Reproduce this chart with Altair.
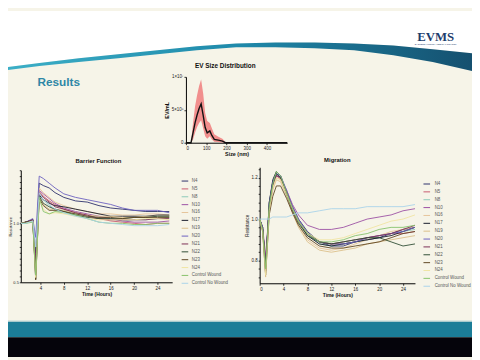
import altair as alt
import pandas as pd

W, H = 472, 352  # visible chart area (page has 8px margin)

# ---------------- data ----------------
series_names = ["N4", "N5", "N8", "N10", "N16", "N17", "N19", "N20", "N21",
                "N22", "N23", "N24", "Control Wound", "Control No Wound"]
series_colors = ["#2b2f6b", "#c85a6e", "#8cc9b8", "#9b4fa3", "#e6c49a", "#15192a",
                 "#dcc08a", "#6a5fc0", "#7b2d55", "#2e4d34", "#5f4522", "#f0e4a2",
                 "#86c26a", "#a9d3ea"]

# EV size distribution
ev_size = [0, 25, 35, 45, 55, 65, 75, 85, 95, 105, 118, 128, 140, 160, 180, 195, 250, 300, 400, 500]
ev_mean = [0, 0, 1.5e6, 3.0e6, 4.2e6, 5.2e6, 5.9e6, 4.2e6, 2.3e6, 1.5e6, 1.8e6, 1.1e6, 0.5e6,
           0.4e6, 0.25e6, 0, 0, 0, 0, 0]
ev_upper = [0, 0, 3.0e6, 5.5e6, 7.2e6, 8.6e6, 9.6e6, 7.5e6, 4.5e6, 3.3e6, 3.0e6, 2.2e6, 1.3e6,
            0.9e6, 0.6e6, 0.1e6, 0, 0, 0, 0]
ev_lower = [0, 0, 0.5e6, 1.5e6, 2.4e6, 3.0e6, 3.4e6, 2.2e6, 1.0e6, 0.6e6, 1.0e6, 0.5e6, 0.15e6,
            0.1e6, 0.05e6, 0, 0, 0, 0, 0]

# Barrier function
barrier_time = [0.7, 1.5, 2.7, 3.2, 3.8, 4.5, 5.5, 6.5, 8, 10, 12, 14, 16, 18, 20, 22, 24, 26]
b_N4 = [1.00, 1.01, 1.03, 0.75, 1.34, 1.32, 1.30, 1.26, 1.22, 1.19, 1.18, 1.15, 1.13, 1.12, 1.11, 1.10, 1.10, 1.10]
b_N5 = [1.00, 1.01, 1.02, 0.60, 1.27, 1.23, 1.19, 1.16, 1.12, 1.09, 1.06, 1.04, 1.02, 1.01, 1.00, 0.99, 1.00, 1.00]
b_N8 = [1.00, 1.00, 1.02, 0.58, 1.25, 1.20, 1.15, 1.12, 1.10, 1.08, 1.06, 1.05, 1.04, 1.02, 1.03, 1.03, 1.04, 1.05]
b_N10 = [1.00, 1.01, 1.03, 0.65, 1.28, 1.25, 1.21, 1.17, 1.13, 1.10, 1.08, 1.06, 1.04, 1.02, 1.01, 1.01, 1.01, 1.02]
b_N16 = [1.00, 1.01, 1.03, 0.57, 1.30, 1.26, 1.22, 1.18, 1.15, 1.12, 1.10, 1.08, 1.08, 1.07, 1.07, 1.08, 1.08, 1.07]
b_N17 = [1.00, 1.01, 1.03, 0.62, 1.24, 1.20, 1.17, 1.15, 1.14, 1.12, 1.10, 1.08, 1.06, 1.06, 1.06, 1.06, 1.07, 1.07]
b_N19 = [1.00, 1.01, 1.02, 0.55, 1.22, 1.16, 1.12, 1.12, 1.11, 1.09, 1.07, 1.06, 1.06, 1.05, 1.05, 1.06, 1.06, 1.06]
b_N20 = [1.00, 1.01, 1.04, 0.88, 1.40, 1.38, 1.34, 1.30, 1.25, 1.22, 1.20, 1.18, 1.16, 1.13, 1.11, 1.11, 1.11, 1.09]
b_N21 = [1.00, 1.01, 1.03, 0.66, 1.26, 1.22, 1.18, 1.14, 1.12, 1.09, 1.07, 1.04, 1.03, 1.03, 1.03, 1.03, 1.04, 1.04]
b_N22 = [1.00, 1.01, 1.02, 0.53, 1.23, 1.17, 1.14, 1.12, 1.10, 1.07, 1.05, 1.04, 1.04, 1.04, 1.05, 1.05, 1.06, 1.06]
b_N23 = [1.00, 1.01, 1.02, 0.52, 1.21, 1.15, 1.11, 1.11, 1.10, 1.08, 1.06, 1.05, 1.05, 1.04, 1.05, 1.05, 1.05, 1.05]
b_N24 = [1.00, 1.00, 1.02, 0.54, 1.20, 1.12, 1.08, 1.09, 1.08, 1.06, 1.04, 1.03, 1.03, 1.03, 1.03, 1.04, 1.04, 1.03]
b_CW = [1.00, 1.00, 1.01, 0.56, 1.22, 1.10, 1.08, 1.10, 1.09, 1.07, 1.04, 1.01, 1.00, 1.00, 0.99, 0.99, 1.00, 1.00]
b_CNW = [1.00, 1.00, 1.02, 0.80, 1.26, 1.20, 1.16, 1.12, 1.09, 1.06, 1.04, 1.01, 1.00, 0.99, 0.98, 0.98, 0.98, 0.99]
barrier_table = [b_N4, b_N5, b_N8, b_N10, b_N16, b_N17, b_N19, b_N20, b_N21, b_N22, b_N23, b_N24, b_CW, b_CNW]

# Migration
migration_time = [0, 0.5, 1, 1.6, 2.2, 2.8, 3.5, 4.5, 5.5, 6.5, 8, 10, 12, 14, 16, 18, 20, 22, 24, 26]
m_N4 = [1.00, 0.96, 0.76, 1.08, 1.18, 1.22, 1.20, 1.13, 1.06, 1.00, 0.94, 0.89, 0.87, 0.87, 0.89, 0.90, 0.91, 0.93, 0.95, 0.96]
m_N5 = [1.00, 0.95, 0.80, 1.06, 1.17, 1.21, 1.19, 1.13, 1.05, 0.99, 0.93, 0.89, 0.88, 0.88, 0.89, 0.91, 0.92, 0.93, 0.93, 0.94]
m_N8 = [1.00, 0.95, 0.78, 1.07, 1.18, 1.22, 1.20, 1.12, 1.05, 0.99, 0.93, 0.88, 0.87, 0.88, 0.89, 0.90, 0.92, 0.93, 0.94, 0.95]
m_N10 = [1.00, 0.96, 0.82, 1.05, 1.16, 1.21, 1.20, 1.14, 1.07, 1.02, 0.97, 0.95, 0.95, 0.96, 0.98, 1.00, 1.01, 1.02, 1.04, 1.05]
m_N16 = [1.00, 0.95, 0.74, 1.04, 1.15, 1.20, 1.19, 1.12, 1.04, 0.97, 0.90, 0.86, 0.85, 0.86, 0.88, 0.90, 0.92, 0.94, 0.95, 0.96]
m_N17 = [1.00, 0.96, 0.75, 1.08, 1.19, 1.23, 1.21, 1.13, 1.05, 0.99, 0.92, 0.88, 0.87, 0.88, 0.89, 0.90, 0.91, 0.92, 0.94, 0.96]
m_N19 = [1.00, 0.94, 0.72, 1.03, 1.14, 1.19, 1.18, 1.11, 1.03, 0.96, 0.89, 0.85, 0.84, 0.85, 0.86, 0.88, 0.89, 0.90, 0.91, 0.92]
m_N20 = [1.00, 0.96, 0.77, 1.07, 1.18, 1.22, 1.21, 1.14, 1.06, 1.00, 0.93, 0.89, 0.88, 0.88, 0.89, 0.91, 0.92, 0.93, 0.94, 0.96]
m_N21 = [1.00, 0.95, 0.79, 1.05, 1.16, 1.21, 1.20, 1.13, 1.05, 0.99, 0.93, 0.89, 0.88, 0.89, 0.90, 0.91, 0.92, 0.93, 0.95, 0.97]
m_N22 = [1.00, 0.95, 0.77, 1.06, 1.17, 1.22, 1.20, 1.12, 1.04, 0.98, 0.92, 0.89, 0.88, 0.89, 0.90, 0.91, 0.91, 0.89, 0.87, 0.88]
m_N23 = [1.00, 0.94, 0.73, 1.02, 1.11, 1.16, 1.16, 1.10, 1.03, 0.97, 0.91, 0.87, 0.86, 0.86, 0.87, 0.88, 0.89, 0.91, 0.93, 0.94]
m_N24 = [1.00, 0.94, 0.73, 1.04, 1.15, 1.20, 1.19, 1.12, 1.05, 0.99, 0.93, 0.90, 0.90, 0.91, 0.93, 0.95, 0.97, 0.99, 1.00, 1.02]
m_CW = [1.00, 0.95, 0.76, 1.06, 1.17, 1.23, 1.21, 1.13, 1.05, 0.99, 0.93, 0.89, 0.89, 0.90, 0.92, 0.93, 0.95, 0.96, 0.96, 0.97]
m_CNW = [1.00, 1.00, 1.00, 1.00, 1.01, 1.01, 1.01, 1.01, 1.02, 1.03, 1.03, 1.04, 1.05, 1.05, 1.05, 1.06, 1.06, 1.06, 1.06, 1.07]
migration_table = [m_N4, m_N5, m_N8, m_N10, m_N16, m_N17, m_N19, m_N20, m_N21, m_N22, m_N23, m_N24, m_CW, m_CNW]

# decorative swoosh (page pixel coordinates)
swoosh_x = [0, 40, 80, 120, 160, 200, 240, 280, 320, 360, 400, 440, 480]
swoosh_top = [66, 61, 56, 52, 48, 44, 41, 40, 40, 41, 43, 47, 51]
swoosh_bottom = [69, 64, 60, 56, 52, 48, 45, 45, 46, 48, 53, 60, 69]


def long_df(times, table):
    rows = []
    for name, vals in zip(series_names, table):
        for t, v in zip(times, vals):
            rows.append({"time": t, "value": v, "series": name})
    return pd.DataFrame(rows)


barrier_df = long_df(barrier_time, barrier_table)
migration_df = long_df(migration_time, migration_table)
ev_df = pd.DataFrame({"size": ev_size, "mean": ev_mean, "upper": ev_upper, "lower": ev_lower})
sw_df = pd.DataFrame({"x": [v - 8 for v in swoosh_x],
                      "top": [v - 8 for v in swoosh_top],
                      "bottom": [v - 8 for v in swoosh_bottom]})
one = pd.DataFrame({"a": [0]})

FONT = "Liberation Sans"

# ---------------- decorations ----------------
top_black = alt.Chart(one).mark_rect(color="#050508").encode(
    x=alt.value(0), x2=alt.value(W), y=alt.value(0), y2=alt.value(12))
white_area = alt.Chart(sw_df).mark_area(color="white").encode(
    x=alt.X("x:Q", scale=None), y=alt.Y("top:Q", scale=None), y2=alt.value(12))
swoosh = alt.Chart(sw_df).mark_area(
    color=alt.Gradient(gradient="linear", x1=0, x2=1, y1=0, y2=0,
                       stops=[alt.GradientStop(color="#3db0c8", offset=0),
                              alt.GradientStop(color="#1f8aab", offset=0.5),
                              alt.GradientStop(color="#15506f", offset=1)])
).encode(x=alt.X("x:Q", scale=None), y=alt.Y("top:Q", scale=None), y2=alt.Y2("bottom:Q"))
bottom_line = alt.Chart(one).mark_rect(color="#cfe0dc").encode(
    x=alt.value(0), x2=alt.value(W), y=alt.value(314.5), y2=alt.value(316))
bottom_teal = alt.Chart(one).mark_rect(color="#1b7d98").encode(
    x=alt.value(0), x2=alt.value(W), y=alt.value(316), y2=alt.value(332))
bottom_black = alt.Chart(one).mark_rect(color="#05040b").encode(
    x=alt.value(0), x2=alt.value(W), y=alt.value(332), y2=alt.value(H))


def label(text, x, y, size, color="#111", weight="bold", align="center", font=FONT):
    return alt.Chart(one).mark_text(
        text=text, fontSize=size, fontWeight=weight, color=color, align=align,
        baseline="middle", font=font
    ).encode(x=alt.value(x), y=alt.value(y))


results_txt = label("Results", 30, 72, 12, color="#2e87a6", align="left")
evms_txt = label("EVMS", 435, 27, 13, color="#1d3d6c", font="Liberation Serif")
evms_sub = label("EASTERN VIRGINIA MEDICAL SCHOOL", 435, 34, 2.3, color="#1d3d6c", weight="normal")
ev_title = label("EV Size Distribution", 221, 56, 6.5)
bar_title = label("Barrier Function", 92, 153, 6)
mig_title = label("Migration", 335, 152, 6)

# ---------------- axis helpers ----------------
ax_common = dict(grid=False, domainColor="black", tickColor="black", labelColor="#222",
                 labelFont=FONT, titleFont=FONT, titleColor="#111",
                 domainWidth=1, tickWidth=0.8, labelPadding=1)

# ---------------- EV chart ----------------
ev_x = alt.Scale(domain=[0, 500], range=[181, 284], nice=False, zero=False)
ev_y = alt.Scale(domain=[0, 1e7], range=[134, 67], nice=False)
ev_band = alt.Chart(ev_df).mark_area(color="#f07c7c", opacity=0.85).encode(
    x=alt.X("size:Q", scale=ev_x, axis=None),
    y=alt.Y("upper:Q", scale=ev_y, axis=None),
    y2="lower:Q")
ev_line = alt.Chart(ev_df).mark_line(color="#111", strokeWidth=1.4).encode(
    x=alt.X("size:Q", scale=ev_x,
            axis=alt.Axis(orient="bottom", offset=-218, values=[0, 100, 200, 300, 400],
                          title="Size (nm)", titleFontSize=5.5, titleFontWeight="bold",
                          titlePadding=2, tickSize=2, labelFontSize=4.5, **ax_common)),
    y=alt.Y("mean:Q", scale=ev_y,
            axis=alt.Axis(orient="left", offset=-181, values=[0, 5e6, 1e7],
                          labelExpr="datum.value == 0 ? '0' : datum.value < 6000000 ? '5×10⁶' : '1×10⁷'",
                          title="EV/mL", titleFontSize=5.5, titleFontWeight="bold",
                          titlePadding=2, tickSize=2, labelFontSize=4.5, **ax_common)))

# ---------------- Barrier chart ----------------
bar_y_vals = [0.5, 0.55, 0.6, 0.65, 0.7, 0.75, 0.8, 0.85, 0.9, 0.95, 1.0,
              1.05, 1.1, 1.15, 1.2, 1.25, 1.3, 1.35, 1.4, 1.45]
barrier = alt.Chart(barrier_df).mark_line(strokeWidth=0.9).encode(
    x=alt.X("time:Q", scale=alt.Scale(domain=[0.65, 26.5], range=[13, 167], nice=False, zero=False),
            axis=alt.Axis(orient="bottom", offset=-76, values=[4, 8, 12, 16, 20, 24],
                          title="Time (Hours)", titleFontSize=5, titleFontWeight="bold",
                          titlePadding=2, tickSize=2, labelFontSize=4.5, **ax_common)),
    y=alt.Y("value:Q", scale=alt.Scale(domain=[0.5, 1.45], range=[276, 162], nice=False, zero=False),
            axis=alt.Axis(orient="left", offset=-13, values=bar_y_vals,
                          labelExpr="abs(datum.value-1)<0.001 ? '1.0' : abs(datum.value-0.5)<0.001 ? '0.5' : ''",
                          title="Resistance", titleFontSize=4, titleFontWeight="normal",
                          titlePadding=0, tickSize=1.5, labelFontSize=4, **ax_common)),
    color=alt.Color("series:N", scale=alt.Scale(domain=series_names, range=series_colors),
                    legend=alt.Legend(orient="none", legendX=176, legendY=169, title=None,
                                      symbolType="stroke", symbolSize=45, symbolStrokeWidth=1,
                                      labelFontSize=4.5, labelFont=FONT, labelColor="#555",
                                      rowPadding=2, labelOffset=3, padding=0)),
    order=alt.Order("time:Q"))

# ---------------- Migration chart ----------------
mig_y_vals = [0.72, 0.76, 0.8, 0.84, 0.88, 0.92, 0.96, 1.0, 1.04, 1.08, 1.12, 1.16, 1.2, 1.24]
migration = alt.Chart(migration_df).mark_line(strokeWidth=0.9).encode(
    x=alt.X("time:Q", scale=alt.Scale(domain=[0, 26], range=[256, 414], nice=False, zero=False),
            axis=alt.Axis(orient="bottom", offset=-75, values=[0, 4, 8, 12, 16, 20, 24],
                          title="Time (Hours)", titleFontSize=5, titleFontWeight="bold",
                          titlePadding=2, tickSize=2, labelFontSize=4.5, **ax_common)),
    y=alt.Y("value:Q", scale=alt.Scale(domain=[0.69, 1.25], range=[277, 159], nice=False, zero=False),
            axis=alt.Axis(orient="left", offset=-256, values=mig_y_vals,
                          labelExpr="abs(datum.value-1)<0.001 ? '1.0' : abs(datum.value-0.8)<0.001 ? '0.8' : abs(datum.value-1.2)<0.001 ? '1.2' : ''",
                          title="Resistance", titleFontSize=4.5, titleFontWeight="normal",
                          titlePadding=2, tickSize=1.5, labelFontSize=4.5, **ax_common)),
    color=alt.Color("series:N", scale=alt.Scale(domain=series_names, range=series_colors),
                    legend=alt.Legend(orient="none", legendX=422, legendY=172, title=None,
                                      symbolType="stroke", symbolSize=45, symbolStrokeWidth=1,
                                      labelFontSize=4.5, labelFont=FONT, labelColor="#555",
                                      rowPadding=2, labelOffset=4, padding=0)),
    order=alt.Order("time:Q"))

chart = alt.layer(
    top_black, white_area, swoosh, bottom_line, bottom_teal, bottom_black,
    results_txt, evms_txt, evms_sub, ev_title, bar_title, mig_title,
    ev_band, ev_line, barrier, migration
).resolve_scale(
    x="independent", y="independent", color="independent"
).properties(
    width=W, height=H, autosize=alt.AutoSizeParams(type="none"), padding=0,
    background="#f6f4e8"
).configure_view(stroke=None)

chart.save("out.html", embed_options={"renderer": "svg", "actions": False})
